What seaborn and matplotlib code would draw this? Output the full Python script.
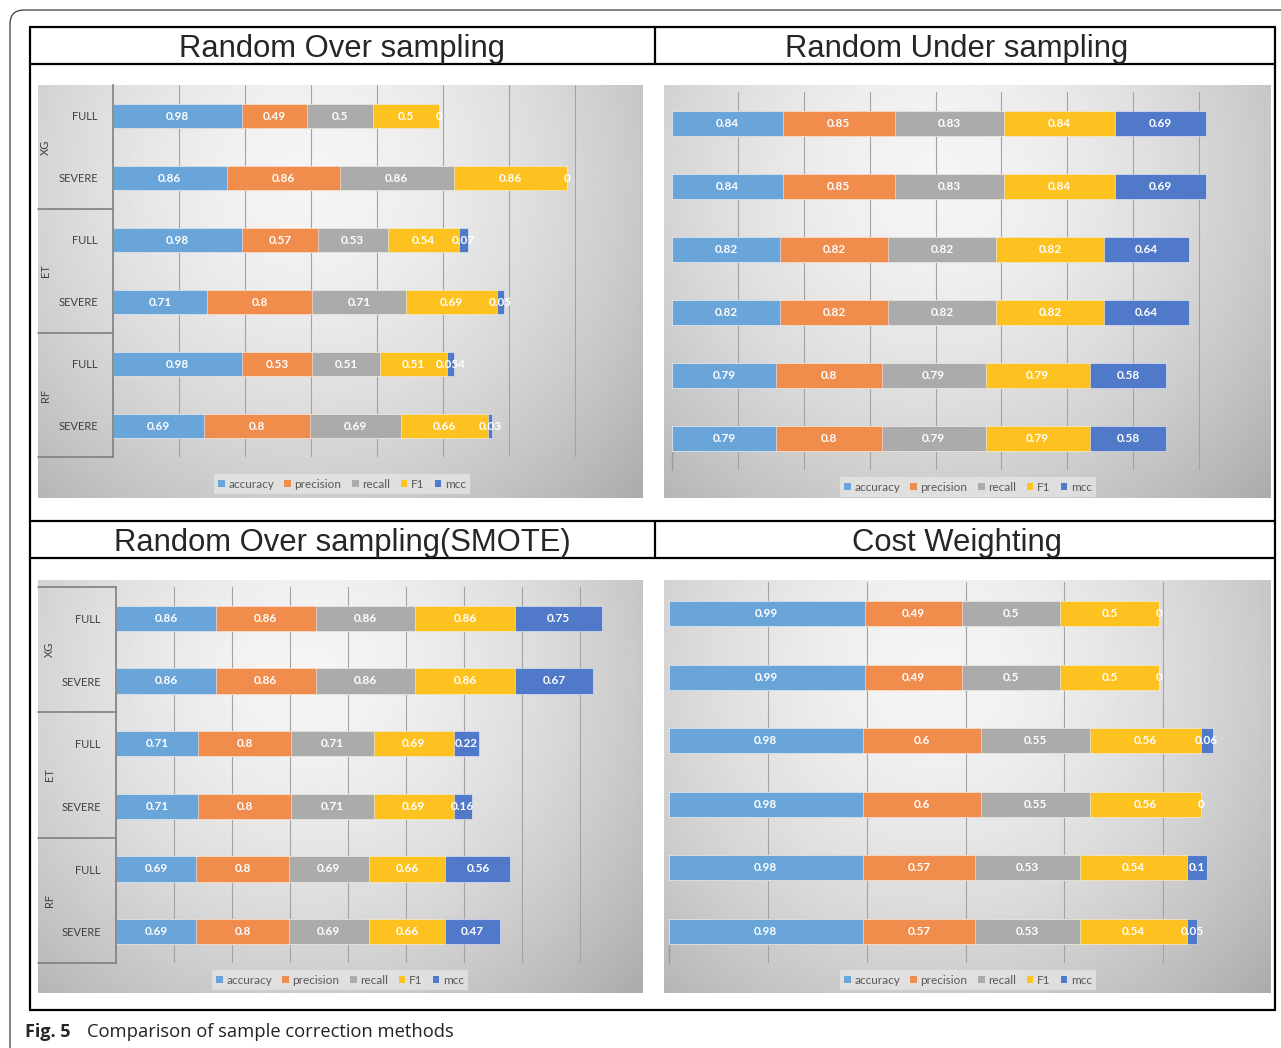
import numpy as np
import pandas as pd
import matplotlib
matplotlib.use("Agg")
import matplotlib.pyplot as plt
import seaborn as sns
from matplotlib.patches import Patch, FancyBboxPatch
from matplotlib.lines import Line2D
from matplotlib.transforms import IdentityTransform, blended_transform_factory

W, H = 1281, 1048

metrics = ["accuracy", "precision", "recall", "F1", "mcc"]
metric_colors = ["#6aa5da", "#f08c4c", "#ababab", "#fdc21f", "#5079c9"]
models = ["XG", "ET", "RF"]
subsets = ["FULL", "SEVERE"]

# Random over sampling
ros_accuracy = [0.98, 0.86, 0.98, 0.71, 0.98, 0.69]
ros_precision = [0.49, 0.86, 0.57, 0.8, 0.53, 0.8]
ros_recall = [0.5, 0.86, 0.53, 0.71, 0.51, 0.69]
ros_f1 = [0.5, 0.86, 0.54, 0.69, 0.51, 0.66]
ros_mcc = [0, 0, 0.07, 0.05, 0.054, 0.03]

# Random under sampling
rus_accuracy = [0.84, 0.84, 0.82, 0.82, 0.79, 0.79]
rus_precision = [0.85, 0.85, 0.82, 0.82, 0.8, 0.8]
rus_recall = [0.83, 0.83, 0.82, 0.82, 0.79, 0.79]
rus_f1 = [0.84, 0.84, 0.82, 0.82, 0.79, 0.79]
rus_mcc = [0.69, 0.69, 0.64, 0.64, 0.58, 0.58]

# Random over sampling with SMOTE
smote_accuracy = [0.86, 0.86, 0.71, 0.71, 0.69, 0.69]
smote_precision = [0.86, 0.86, 0.8, 0.8, 0.8, 0.8]
smote_recall = [0.86, 0.86, 0.71, 0.71, 0.69, 0.69]
smote_f1 = [0.86, 0.86, 0.69, 0.69, 0.66, 0.66]
smote_mcc = [0.75, 0.67, 0.22, 0.16, 0.56, 0.47]

# Cost weighting
cw_accuracy = [0.99, 0.99, 0.98, 0.98, 0.98, 0.98]
cw_precision = [0.49, 0.49, 0.6, 0.6, 0.57, 0.57]
cw_recall = [0.5, 0.5, 0.55, 0.55, 0.53, 0.53]
cw_f1 = [0.5, 0.5, 0.56, 0.56, 0.54, 0.54]
cw_mcc = [0, 0, 0.06, 0, 0.1, 0.05]

rows = [f"{m} {s}" for m in models for s in subsets]

sns.set_style("white")
plt.rcParams["font.family"] = ["Lato", "DejaVu Sans"]

fig = plt.figure(figsize=(W / 100, H / 100), dpi=100)
fig.patch.set_facecolor("white")


def fx(x):
    return x / W


def fy(y):
    return 1 - y / H


def rect(x0, y0, x1, y1):
    return [fx(x0), fy(y1), (x1 - x0) / W, (y1 - y0) / H]


# soft radial shading used behind every chart
gy, gx = np.mgrid[0:1:240j, 0:1:320j]
rad = np.sqrt(((gx - 0.45) / 0.6) ** 2 + ((gy - 0.22) / 0.9) ** 2)
shade = np.clip(0.96 - 0.2 * rad ** 1.6, 0, 1)


def draw_panel(values, bg_box, plot_box, xmax, legend_xy, grouped, group_x):
    bg_ax = fig.add_axes(rect(*bg_box), zorder=0)
    bg_ax.imshow(shade, extent=[0, 1, 0, 1], aspect="auto", cmap="gray",
                 vmin=0, vmax=1, origin="upper", interpolation="bilinear")
    bg_ax.axis("off")

    ax = fig.add_axes(rect(*plot_box), zorder=1)
    ax.patch.set_alpha(0)

    df = pd.DataFrame({m: v for m, v in zip(metrics, values)})
    cum = df.cumsum(axis=1)
    cum["row"] = rows
    for m, c in reversed(list(zip(metrics, metric_colors))):
        sns.barplot(data=cum, x=m, y="row", color=c, width=0.4, saturation=1,
                    errorbar=None, orient="h", ax=ax,
                    edgecolor=(1, 1, 1, 0.55), linewidth=0.6, zorder=2)

    for i in range(len(rows)):
        for m in metrics:
            v = df.loc[i, m]
            end = cum.loc[i, m]
            ax.text(end - v / 2, i, f"{v:g}", ha="center", va="center",
                    color="white", fontsize=8.5, fontweight="bold", zorder=4)

    ax.set_xlim(0, xmax)
    ax.set_ylim(len(rows) - 0.5, -0.5)
    ax.set_xticks(np.arange(0.5, xmax + 0.001, 0.5))
    ax.grid(axis="x", color="#a3a3a3", linewidth=0.8)
    ax.grid(axis="y", visible=False)
    ax.set_axisbelow(True)
    ax.tick_params(axis="x", length=0, labelbottom=False)
    ax.set_xlabel("")
    ax.set_ylabel("")
    for s in ["top", "right", "bottom"]:
        ax.spines[s].set_visible(False)

    px0 = plot_box[0]
    pw = plot_box[2] - plot_box[0]
    if grouped:
        ax.spines["left"].set_color("#7f7f7f")
        ax.spines["left"].set_linewidth(1.2)
        ax.set_yticks(range(len(rows)))
        ax.set_yticklabels(subsets * len(models), fontsize=8, color="#404040")
        ax.tick_params(axis="y", length=0, pad=11)
        tr = blended_transform_factory(ax.transAxes, ax.transData)
        left = (bg_box[0] - px0) / pw
        seps = [1.5, 3.5, 5.5]
        if grouped == "boxed":
            seps = [-0.5] + seps
        for yv in seps:
            ax.add_line(Line2D([left, 0], [yv, yv], transform=tr, color="#7f7f7f",
                               linewidth=1.2, clip_on=False))
        gxa = (group_x - px0) / pw
        for k, g in enumerate(models):
            ax.text(gxa, 2 * k + 0.5, g, transform=tr, rotation=90, ha="center",
                    va="center", fontsize=8, color="#404040")
    else:
        ax.spines["left"].set_visible(False)
        ax.set_yticks([])
        ax.add_line(Line2D([0, 0], [5.22, 5.5], color="#9a9a9a", linewidth=1.0,
                           clip_on=False))

    handles = [Patch(facecolor=c, edgecolor="none") for c in metric_colors]
    leg = fig.legend(handles, metrics, loc="center",
                     bbox_to_anchor=(fx(legend_xy[0]), fy(legend_xy[1])),
                     ncol=5, fontsize=8.5, handlelength=0.55, handleheight=0.55,
                     handletextpad=0.3, columnspacing=0.9, borderpad=0.35,
                     frameon=True, fancybox=False, labelcolor="#595959")
    leg.get_frame().set_facecolor("#e8e8e8")
    leg.get_frame().set_edgecolor("none")
    leg.get_frame().set_alpha(0.7)
    leg.set_zorder(5)


draw_panel([ros_accuracy, ros_precision, ros_recall, ros_f1, ros_mcc],
           (38, 85, 643, 498), (113, 85, 641, 457), 4.0, (342, 484), "open", 45)
draw_panel([rus_accuracy, rus_precision, rus_recall, rus_f1, rus_mcc],
           (664, 85, 1271, 498), (672, 92, 1265, 470), 4.5, (968, 487), None, 0)
draw_panel([smote_accuracy, smote_precision, smote_recall, smote_f1, smote_mcc],
           (38, 580, 643, 993), (116, 587, 638, 963), 4.5, (340, 980), "boxed", 49)
draw_panel([cw_accuracy, cw_precision, cw_recall, cw_f1, cw_mcc],
           (664, 580, 1271, 993), (669, 582, 1262, 963), 3.0, (968, 980), None, 0)

# table frame with the method titles
lw = 1.6


def hline(y, x0, x1):
    fig.add_artist(Line2D([fx(x0), fx(x1)], [fy(y), fy(y)], transform=fig.transFigure,
                          color="black", linewidth=lw, zorder=6))


def vline(x, y0, y1):
    fig.add_artist(Line2D([fx(x), fx(x)], [fy(y0), fy(y1)], transform=fig.transFigure,
                          color="black", linewidth=lw, zorder=6))


for y in [27, 64, 521, 558, 1010]:
    hline(y, 30, 1275)
vline(30, 27, 1010)
vline(1275, 27, 1010)
vline(655, 27, 64)
vline(655, 521, 558)

titles = [("Random Over sampling", 342, 48.5), ("Random Under sampling", 957, 48.5),
          ("Random Over sampling(SMOTE)", 342, 542.5), ("Cost Weighting", 957, 542.5)]
for t, x, y in titles:
    fig.text(fx(x), fy(y), t, ha="center", va="center", fontsize=22.3,
             family=["Liberation Sans", "DejaVu Sans"], zorder=7)

# rounded page frame
frame = FancyBboxPatch((10, -200), 1500, H - 10 + 200,
                       boxstyle="round,pad=0,rounding_size=14",
                       transform=IdentityTransform(), facecolor="none",
                       edgecolor="#3a3a3a", linewidth=0.9)
fig.patches.append(frame)

# caption
fig.text(fx(25), fy(1032), "Fig. 5", fontsize=13, fontweight="bold", va="center",
         family=["Open Sans", "DejaVu Sans"])
fig.text(fx(87), fy(1032), "Comparison of sample correction methods", fontsize=13.2,
         va="center", family=["Open Sans", "DejaVu Sans"], color="#222222")

fig.savefig("out.png", dpi=100)
